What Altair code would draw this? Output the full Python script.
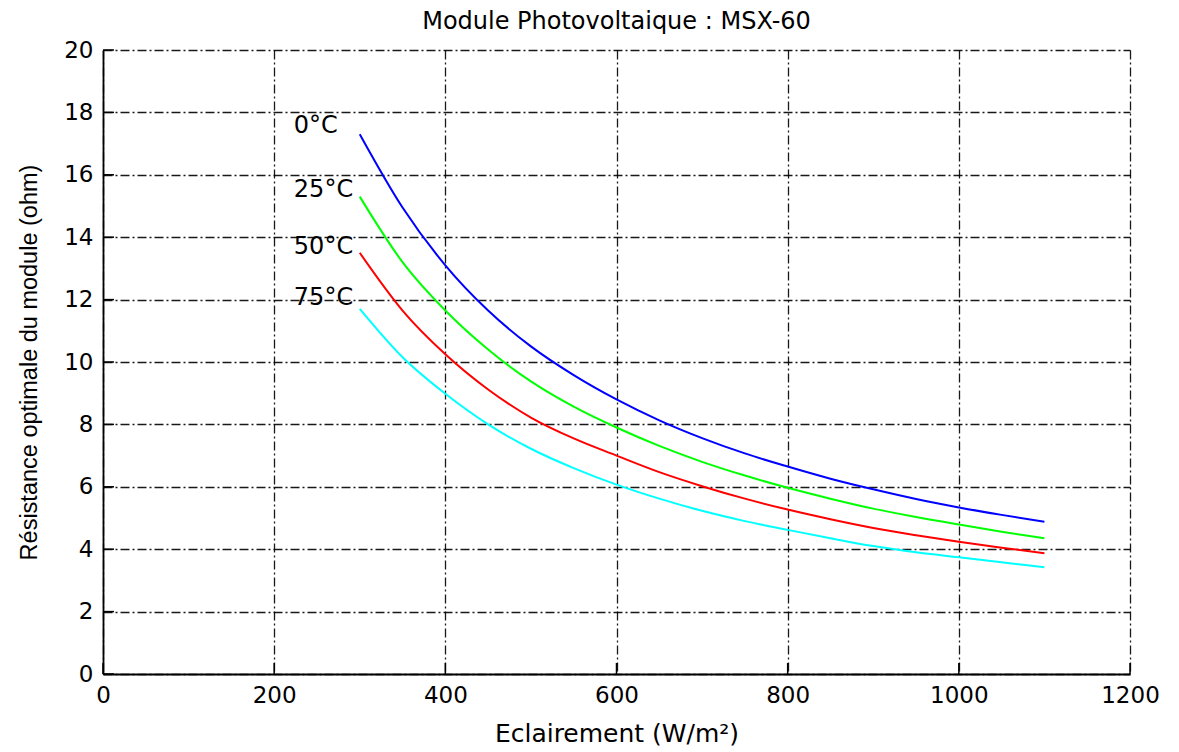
import altair as alt
import pandas as pd

# Irradiance samples (W/m^2) and optimal module resistance (ohm) per cell temperature
irradiance = [300, 350, 400, 450, 500, 550, 600, 650, 700, 750, 800, 850, 900, 950, 1000, 1050, 1100]
r_0c  = [17.3, 14.95, 13.1, 11.65, 10.5, 9.58, 8.8, 8.13, 7.56, 7.07, 6.65, 6.26, 5.92, 5.61, 5.34, 5.1, 4.88]
r_25c = [15.3, 13.2, 11.65, 10.4, 9.38, 8.57, 7.9, 7.31, 6.8, 6.36, 5.97, 5.62, 5.3, 5.03, 4.79, 4.56, 4.35]
r_50c = [13.5, 11.65, 10.25, 9.12, 8.22, 7.55, 7.0, 6.47, 6.02, 5.62, 5.27, 4.96, 4.68, 4.45, 4.24, 4.05, 3.87]
r_75c = [11.7, 10.15, 8.98, 8.0, 7.22, 6.6, 6.07, 5.62, 5.23, 4.9, 4.62, 4.35, 4.1, 3.9, 3.74, 3.58, 3.42]

temps = ["0°C", "25°C", "50°C", "75°C"]
colors = ["#0000ff", "#00ff00", "#ff0000", "#00ffff"]

# Curve label anchor points (data coordinates)
label_x = [223, 223, 223, 223]
label_y = [17.55, 15.5, 13.7, 12.05]

x_ticks = [0, 200, 400, 600, 800, 1000, 1200]
y_ticks = [0, 2, 4, 6, 8, 10, 12, 14, 16, 18, 20]

rows = []
for t, series in zip(temps, [r_0c, r_25c, r_50c, r_75c]):
    for g, r in zip(irradiance, series):
        rows.append({"G": g, "R": r, "T": t})
df = pd.DataFrame(rows)
labels = pd.DataFrame({"x": label_x, "y": label_y, "T": temps})
xt = pd.DataFrame({"v": x_ticks})
yt = pd.DataFrame({"v": y_ticks})

FONT = "DejaVu Sans"
W, H = 1027, 624

xscale = alt.Scale(domain=[0, 1200], nice=False, zero=False)
yscale = alt.Scale(domain=[0, 20], nice=False, zero=False)

x_axis = alt.Axis(values=x_ticks, format="d", title="Eclairement (W/m²)", grid=True, ticks=False,
                  labelPadding=10, labelFlush=False, titlePadding=14, titleFontSize=25)
y_axis = alt.Axis(values=y_ticks, format="d", title="Résistance optimale du module (ohm)", grid=True,
                  ticks=False, labelPadding=10, labelFlush=False, titlePadding=22,
                  titleFont="Liberation Sans", titleFontSize=23.5)

lines = alt.Chart(df).mark_line(strokeWidth=2, interpolate="monotone").encode(
    x=alt.X("G:Q", scale=xscale, axis=x_axis),
    y=alt.Y("R:Q", scale=yscale, axis=y_axis),
    color=alt.Color("T:N", scale=alt.Scale(domain=temps, range=colors), legend=None),
)

text = alt.Chart(labels).mark_text(align="left", baseline="middle", font=FONT, fontSize=24,
                                   color="black").encode(
    x=alt.X("x:Q", scale=xscale),
    y=alt.Y("y:Q", scale=yscale),
    text="T:N",
)

# Inward tick marks along the bottom and left axes
xtick_marks = alt.Chart(xt).mark_rule(color="black", strokeWidth=1.5).encode(
    x=alt.X("v:Q", scale=xscale), y=alt.value(H), y2=alt.value(H - 11))
ytick_marks = alt.Chart(yt).mark_rule(color="black", strokeWidth=1.5).encode(
    y=alt.Y("v:Q", scale=yscale), x=alt.value(0), x2=alt.value(11))

chart = alt.layer(lines, text, xtick_marks, ytick_marks).properties(
    width=W, height=H,
    background="white",
    title=alt.TitleParams("Module Photovoltaique : MSX-60", font=FONT, fontSize=24,
                          fontWeight="normal", color="black", offset=5),
    autosize=alt.AutoSizeParams(type="none"),
    padding={"left": 103, "top": 50, "right": 49, "bottom": 78},
).configure_view(stroke=None).configure_axis(
    labelFont=FONT, labelFontSize=23, labelColor="black",
    titleFont=FONT, titleFontSize=23, titleColor="black", titleFontWeight="normal",
    domainColor="black", domainWidth=1.8,
    gridColor="black", gridOpacity=0.9, gridWidth=1.3, gridDash=[9, 3, 2, 3],
)

chart.save("out.html", embed_options={"renderer": "svg", "actions": False})
